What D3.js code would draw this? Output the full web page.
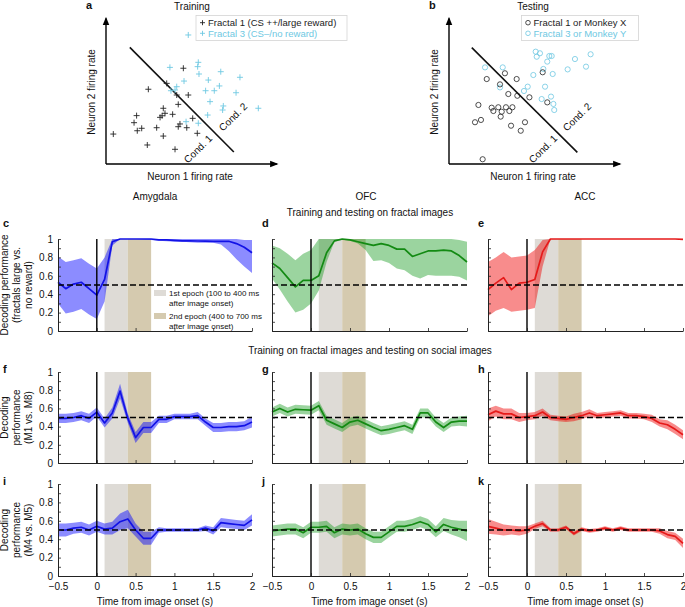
<!DOCTYPE html>
<html><head><meta charset="utf-8">
<script src="https://cdn.jsdelivr.net/npm/d3@7"></script>
<style>
body{margin:0;background:#fff}
text{font-family:"Liberation Sans",Arial,Helvetica,sans-serif;fill:#111}
</style>
</head><body>
<svg id="fig" width="685" height="607"></svg>
<script>
// ---------------- DATA ----------------
// Panel a (training) scatter, arbitrary firing-rate units 0..10
const fractal1Train = [[4.55,6.65],[2.49,5.19],[3.57,5.60],[4.16,4.79],[4.84,4.79],[4.25,4.14],[3.37,3.87],[3.47,3.52],[3.18,3.24],[3.92,3.45],[1.80,3.36],[1.65,2.87],[1.84,2.31],[2.10,2.48],[2.98,2.52],[4.35,2.78],[4.25,2.59],[4.75,2.52],[5.10,3.17],[5.37,2.13],[0.43,2.08],[3.37,1.94],[2.43,1.32],[4.06,1.02],[3.30,3.35]];
const fractal3Train = [[4.84,8.96],[5.43,7.06],[5.39,6.76],[3.76,6.71],[5.47,6.25],[6.75,6.41],[7.88,6.02],[6.02,5.83],[4.59,5.76],[6.67,5.42],[4.16,5.37],[4.06,5.14],[3.82,5.09],[5.86,5.09],[6.37,5.09],[7.65,4.95],[6.12,4.33],[6.90,4.03],[6.86,3.75],[8.96,3.87],[5.98,3.40],[5.43,2.83],[4.71,2.94]];
// Panel b (testing) scatter
const monkeyXTest = [[3.29,6.30],[2.22,5.90],[3.98,5.90],[3.00,5.53],[5.51,6.37],[3.49,4.86],[4.02,4.74],[4.73,4.63],[5.78,4.28],[1.73,4.10],[2.51,3.91],[2.90,3.94],[3.35,3.94],[3.73,3.94],[2.61,3.68],[3.10,3.63],[3.55,3.68],[3.04,3.29],[1.88,3.06],[1.53,2.90],[4.47,2.90],[3.65,2.66],[4.22,2.31],[1.98,0.33]];
const monkeyYTest = [[5.10,7.80],[5.35,7.69],[5.16,7.45],[5.90,7.50],[6.04,7.50],[5.78,7.11],[7.41,7.29],[8.33,7.62],[2.12,6.71],[3.16,6.71],[5.55,6.60],[6.98,6.57],[8.06,6.76],[4.96,6.18],[6.10,6.25],[3.00,5.32],[4.63,5.37],[5.65,5.37],[4.41,5.07],[6.00,4.68],[5.45,4.51],[6.14,4.17],[6.19,3.75]];
const boundaryTrain = [[1.40,8.10],[7.52,0.83]];
const boundaryTest = [[1.34,8.08],[7.55,0.81]];

// Time axis (s)
const time = [-0.5,-0.4,-0.3,-0.2,-0.1,0,0.1,0.2,0.3,0.4,0.5,0.6,0.7,0.8,0.9,1.0,1.1,1.2,1.3,1.4,1.5,1.6,1.7,1.8,1.9,2.0];
const epochs = [[0.1,0.4],[0.4,0.7]];
const xTicks = [-0.5,0,0.5,1,1.5,2];
const yTicks = [0,0.1,0.2,0.3,0.4,0.5,0.6,0.7,0.8,0.9,1];
const yLabelTicks = [0,0.2,0.4,0.6,0.8,1];
const chance = 0.5;

// c: Amygdala, fractals
const amyFracMean  = [0.53,0.46,0.51,0.53,0.46,0.39,0.56,0.97,1.00,1.00,1.00,1.00,1.00,0.99,0.99,0.985,0.98,0.98,0.978,0.976,0.975,0.975,0.975,0.95,0.91,0.85];
const amyFracUpper = [0.81,0.75,0.77,0.79,0.73,0.68,0.80,1.00,1.00,1.00,1.00,1.00,1.00,1.00,1.00,1.00,1.00,1.00,1.00,1.00,1.00,1.00,1.00,1.00,0.99,0.99];
const amyFracLower = [0.30,0.19,0.21,0.24,0.18,0.13,0.32,0.93,1.00,1.00,1.00,0.995,0.99,0.98,0.975,0.97,0.97,0.965,0.96,0.96,0.96,0.94,0.87,0.78,0.70,0.63];
// d: OFC, fractals
const ofcFracMean  = [0.74,0.68,0.58,0.48,0.55,0.55,0.60,0.85,0.98,1.00,0.99,0.97,0.95,0.93,0.95,0.93,0.89,0.89,0.81,0.84,0.87,0.87,0.88,0.87,0.82,0.75];
const ofcFracUpper = [0.93,0.90,0.84,0.77,0.84,0.88,1.00,1.00,1.00,1.00,1.00,1.00,1.00,1.00,1.00,1.00,1.00,1.00,1.00,1.00,1.00,1.00,1.00,1.00,0.99,0.97];
const ofcFracLower = [0.57,0.45,0.32,0.20,0.23,0.30,0.44,0.75,0.97,0.99,0.98,0.95,0.88,0.76,0.77,0.74,0.68,0.66,0.60,0.57,0.61,0.60,0.60,0.60,0.59,0.55];
// e: ACC, fractals
const accFracMean  = [0.45,0.52,0.58,0.45,0.52,0.53,0.56,0.86,1.00,1.00,1.00,1.00,1.00,1.00,1.00,1.00,1.00,1.00,1.00,1.00,1.00,1.00,1.00,1.00,1.00,0.995];
const accFracUpper = [0.75,0.80,0.86,0.80,0.81,0.82,0.88,0.99,1.00,1.00,1.00,1.00,1.00,1.00,1.00,1.00,1.00,1.00,1.00,1.00,1.00,1.00,1.00,1.00,1.00,1.00];
const accFracLower = [0.16,0.22,0.25,0.21,0.22,0.23,0.25,0.70,1.00,1.00,1.00,1.00,1.00,1.00,1.00,1.00,1.00,1.00,1.00,1.00,1.00,1.00,1.00,1.00,1.00,0.99];
// f/g/h: M1 vs M8 (mean, half-width of band)
const amyM1M8Mean = [0.49,0.49,0.50,0.52,0.49,0.56,0.44,0.55,0.79,0.49,0.28,0.39,0.39,0.48,0.48,0.51,0.51,0.51,0.52,0.45,0.39,0.39,0.40,0.40,0.41,0.45];
const amyM1M8Err  = [0.05,0.05,0.05,0.05,0.05,0.05,0.05,0.06,0.08,0.05,0.06,0.06,0.06,0.04,0.04,0.03,0.03,0.03,0.04,0.04,0.05,0.05,0.05,0.05,0.05,0.06];
const ofcM1M8Mean = [0.56,0.60,0.56,0.59,0.585,0.58,0.63,0.47,0.43,0.39,0.45,0.47,0.43,0.39,0.355,0.37,0.39,0.41,0.37,0.55,0.55,0.45,0.39,0.45,0.46,0.46];
const ofcM1M8Err  = [0.05,0.05,0.05,0.05,0.05,0.05,0.05,0.05,0.05,0.05,0.05,0.05,0.05,0.05,0.05,0.05,0.05,0.05,0.05,0.05,0.05,0.05,0.05,0.05,0.05,0.06];
const accM1M8Mean = [0.53,0.57,0.54,0.54,0.50,0.51,0.52,0.56,0.50,0.49,0.48,0.50,0.52,0.55,0.52,0.53,0.54,0.55,0.52,0.52,0.51,0.49,0.44,0.42,0.37,0.31];
const accM1M8Err  = [0.07,0.06,0.06,0.06,0.05,0.04,0.04,0.04,0.03,0.03,0.03,0.04,0.04,0.04,0.03,0.03,0.03,0.03,0.03,0.03,0.03,0.04,0.04,0.05,0.05,0.05];
// i/j/k: M4 vs M5
const amyM4M5Mean = [0.50,0.50,0.52,0.53,0.50,0.54,0.51,0.52,0.59,0.62,0.50,0.41,0.41,0.50,0.50,0.50,0.50,0.50,0.50,0.52,0.49,0.58,0.57,0.56,0.55,0.61];
const amyM4M5Err  = [0.07,0.07,0.06,0.06,0.06,0.06,0.06,0.07,0.09,0.10,0.07,0.07,0.07,0.03,0.02,0.02,0.02,0.02,0.02,0.03,0.04,0.05,0.05,0.05,0.05,0.06];
const ofcM4M5Mean = [0.49,0.50,0.51,0.51,0.47,0.53,0.53,0.54,0.47,0.51,0.50,0.51,0.46,0.42,0.42,0.48,0.54,0.54,0.56,0.59,0.56,0.48,0.56,0.53,0.51,0.49];
const ofcM4M5Err  = [0.06,0.06,0.06,0.06,0.06,0.06,0.06,0.06,0.06,0.06,0.06,0.06,0.06,0.06,0.06,0.06,0.06,0.06,0.06,0.06,0.06,0.06,0.07,0.08,0.09,0.11];
const accM4M5Mean = [0.54,0.52,0.50,0.50,0.49,0.50,0.54,0.57,0.50,0.50,0.53,0.46,0.51,0.49,0.50,0.52,0.50,0.52,0.50,0.50,0.50,0.50,0.49,0.45,0.43,0.355];
const accM4M5Err  = [0.08,0.07,0.06,0.05,0.05,0.04,0.03,0.03,0.02,0.02,0.02,0.02,0.02,0.02,0.02,0.02,0.02,0.02,0.02,0.02,0.02,0.02,0.03,0.04,0.04,0.05];

const regionTitles = ["Amygdala","OFC","ACC"];
const rowTitles = ["Training and testing on fractal images","Training on fractal images and testing on social images"];
const yAxisLabels = [["Decoding performance","(fractals large vs.","no reward)"],["Decoding","performance","(M1 vs. M8)"],["Decoding","performance","(M4 vs. M5)"]];
const epochLegend = [["1st epoch (100 to 400 ms","after image onset)"],["2nd epoch (400 to 700 ms","after image onset)"]];

// ---------------- LAYOUT / STYLE ----------------
const svg = d3.select("#fig");
const cols = [[58,252],[272,467],[488,683]];
const rows = [[331,239],[463,372],[576,484]];
const regionColors = [
  {line:"#1212e6", band:"#0000ff", op:0.45},
  {line:"#138a13", band:"#11991a", op:0.42},
  {line:"#e61a1a", band:"#f00000", op:0.45}
];
const epochColors = ["#dedbd6","#d5caaf"];
const cyan = "#6ec8e2";

function fmt(d){ return d<0 ? "\u2212"+Math.abs(d) : String(d); }

// ---------------- PANELS a, b ----------------
function scatterPanel(opt){
  const x = d3.scaleLinear().domain([0,10]).range([opt.x0, opt.x0+170]);
  const y = d3.scaleLinear().domain([0,10]).range([164, 20]);
  const g = svg.append("g");
  const defsId = "arr"+opt.letter;
  svg.append("defs").append("marker").attr("id",defsId).attr("viewBox","0 0 10 10")
    .attr("refX",8).attr("refY",5).attr("markerWidth",6).attr("markerHeight",6).attr("orient","auto")
    .append("path").attr("d","M0,1 L10,5 L0,9 Z").attr("fill","#000");
  g.append("line").attr("x1",x(0)).attr("y1",y(0)).attr("x2",x(10.05)).attr("y2",y(0))
    .attr("stroke","#000").attr("stroke-width",1.4).attr("marker-end","url(#"+defsId+")");
  g.append("line").attr("x1",x(0)).attr("y1",y(0)).attr("x2",x(0)).attr("y2",y(10.1))
    .attr("stroke","#000").attr("stroke-width",1.4).attr("marker-end","url(#"+defsId+")");
  // boundary
  g.append("line").attr("x1",x(opt.boundary[0][0])).attr("y1",y(opt.boundary[0][1]))
    .attr("x2",x(opt.boundary[1][0])).attr("y2",y(opt.boundary[1][1]))
    .attr("stroke","#111").attr("stroke-width",1.6);
  const drawMark = (sel, color) => {
    if(opt.marker==="plus"){
      sel.append("path").attr("d",d=>`M${x(d[0])-3},${y(d[1])}h6M${x(d[0])},${y(d[1])-3}v6`)
        .attr("stroke",color).attr("stroke-width",0.9).attr("fill","none");
    } else {
      sel.append("circle").attr("cx",d=>x(d[0])).attr("cy",d=>y(d[1])).attr("r",2.6)
        .attr("stroke",color).attr("stroke-width",0.8).attr("fill","none");
    }
  };
  drawMark(g.append("g").selectAll("g").data(opt.s2).join("g"), cyan);
  drawMark(g.append("g").selectAll("g").data(opt.s1).join("g"), "#222");
  // labels
  g.append("text").attr("x",opt.x0-20).attr("y",9).attr("font-weight","bold").attr("font-size",11).text(opt.letter);
  g.append("text").attr("x",opt.titleX).attr("y",10).attr("text-anchor","middle").attr("font-size",10).text(opt.title);
  g.append("text").attr("transform",`translate(${opt.x0-11},92) rotate(-90)`).attr("text-anchor","middle").attr("font-size",10).text("Neuron 2 firing rate");
  g.append("text").attr("x",x(5)-1).attr("y",180).attr("text-anchor","middle").attr("font-size",10).text("Neuron 1 firing rate");
  g.append("text").attr("transform",`translate(${opt.c1[0]},${opt.c1[1]}) rotate(-45)`).attr("text-anchor","middle").attr("dominant-baseline","central").attr("font-size",10).text("Cond. 1");
  g.append("text").attr("transform",`translate(${opt.c2[0]},${opt.c2[1]}) rotate(-45)`).attr("text-anchor","middle").attr("dominant-baseline","central").attr("font-size",10).text("Cond. 2");
  // legend
  const lg = g.append("g");
  lg.append("rect").attr("x",opt.leg[0]).attr("y",15.5).attr("width",opt.leg[1]).attr("height",25)
    .attr("fill","#fff").attr("stroke","#d4d4d4").attr("stroke-width",0.8);
  const ly = [22.7,33.3], lc = ["#222",cyan];
  opt.legendText.forEach((t,i)=>{
    const mx = opt.leg[0]+6.5;
    if(opt.marker==="plus"){
      lg.append("path").attr("d",`M${mx-2.5},${ly[i]}h5M${mx},${ly[i]-2.5}v5`).attr("stroke",lc[i]).attr("stroke-width",0.9);
    } else {
      lg.append("circle").attr("cx",mx).attr("cy",ly[i]).attr("r",2.3).attr("fill","none").attr("stroke",lc[i]).attr("stroke-width",0.8);
    }
    lg.append("text").attr("x",mx+5.5).attr("y",ly[i]+3.4).attr("font-size",9.5).style("fill",lc[i]).text(t);
  });
}
scatterPanel({letter:"a", x0:106, s1:fractal1Train, s2:fractal3Train, boundary:boundaryTrain, marker:"plus",
  title:"Training", titleX:192, c1:[198,149], c2:[233,117], leg:[196,151],
  legendText:["Fractal 1 (CS ++/large reward)","Fractal 3 (CS\u2013/no reward)"]});
scatterPanel({letter:"b", x0:449, s1:monkeyXTest, s2:monkeyYTest, boundary:boundaryTest, marker:"circle",
  title:"Testing", titleX:533, c1:[543,149], c2:[577,117], leg:[521.5,117],
  legendText:["Fractal 1 or Monkey X","Fractal 3 or Monkey Y"]});

// ---------------- TIME-SERIES PANELS ----------------
const band = (mean, err) => mean.map((m,i)=>[m-err[i], m+err[i]]);
const panels = [
  {L:"c", r:0, c:0, mean:amyFracMean, lo:amyFracLower, hi:amyFracUpper},
  {L:"d", r:0, c:1, mean:ofcFracMean, lo:ofcFracLower, hi:ofcFracUpper},
  {L:"e", r:0, c:2, mean:accFracMean, lo:accFracLower, hi:accFracUpper},
  {L:"f", r:1, c:0, mean:amyM1M8Mean, err:amyM1M8Err},
  {L:"g", r:1, c:1, mean:ofcM1M8Mean, err:ofcM1M8Err, serif:true},
  {L:"h", r:1, c:2, mean:accM1M8Mean, err:accM1M8Err},
  {L:"i", r:2, c:0, mean:amyM4M5Mean, err:amyM4M5Err},
  {L:"j", r:2, c:1, mean:ofcM4M5Mean, err:ofcM4M5Err},
  {L:"k", r:2, c:2, mean:accM4M5Mean, err:accM4M5Err}
];

panels.forEach(p=>{
  const x = d3.scaleLinear().domain([-0.5,2]).range(cols[p.c]);
  const y = d3.scaleLinear().domain([0,1]).range(rows[p.r]);
  const col = regionColors[p.c];
  const g = svg.append("g");
  // epochs
  g.selectAll("rect.ep").data(epochs).join("rect").attr("class","ep")
    .attr("x",d=>x(d[0])).attr("width",d=>x(d[1])-x(d[0]))
    .attr("y",y(1)).attr("height",y(0)-y(1)).attr("fill",(d,i)=>epochColors[i]);
  // band
  const bounds = p.err ? band(p.mean,p.err) : p.mean.map((m,i)=>[p.lo[i],p.hi[i]]);
  const area = d3.area().x((d,i)=>x(time[i])).y0(d=>y(Math.max(0,d[0]))).y1(d=>y(Math.min(1,d[1])));
  g.append("path").datum(bounds).attr("d",area).attr("fill",col.band).attr("fill-opacity",col.op);
  // mean line
  const line = d3.line().x((d,i)=>x(time[i])).y(d=>y(d));
  g.append("path").datum(p.mean).attr("d",line).attr("fill","none").attr("stroke",col.line)
    .attr("stroke-width",1.7).attr("stroke-linejoin","round");
  // chance line
  g.append("line").attr("x1",x(-0.5)).attr("x2",x(2)).attr("y1",y(chance)).attr("y2",y(chance))
    .attr("stroke","#000").attr("stroke-width",1.5).attr("stroke-dasharray","6,3");
  // onset line
  g.append("line").attr("x1",x(0)).attr("x2",x(0)).attr("y1",y(0)).attr("y2",y(1))
    .attr("stroke","#000").attr("stroke-width",1.4);
  // axes
  const ya = d3.axisLeft(y).tickValues(yTicks).tickSize(-3).tickSizeOuter(0).tickPadding(5)
    .tickFormat(d=> (p.c===0 && yLabelTicks.some(v=>Math.abs(v-d)<1e-9)) ? fmt(+d.toFixed(1)) : "");
  const yg = g.append("g").attr("transform",`translate(${x(-0.5)},0)`).call(ya);
  const xa = d3.axisBottom(x).tickValues(xTicks).tickSize(-3).tickSizeOuter(0).tickPadding(7)
    .tickFormat(d=> p.r===2 ? fmt(d) : "");
  const xg = g.append("g").attr("transform",`translate(0,${y(0)})`).call(xa);
  [yg,xg].forEach(a=>{
    a.selectAll("text").attr("font-size",10).attr("font-family",'"Liberation Sans",Arial,sans-serif').attr("fill","#111");
    a.selectAll("line").attr("stroke","#222").attr("stroke-width",0.8);
    a.select(".domain").attr("stroke","#222").attr("stroke-width",1);
  });
  // panel letter
  const lx = p.c===0 ? 3 : cols[p.c][0]-10;
  const ly = p.r===0 ? y(1)-12 : y(1)+1;
  g.append("text").attr("x",lx).attr("y",ly).attr("font-size",11).attr("font-weight","bold")
    .attr("font-family", p.serif ? '"Liberation Serif","Times New Roman",serif' : null).text(p.L);
  // y label
  if(p.c===0){
    const yc = (rows[p.r][0]+rows[p.r][1])/2;
    yAxisLabels[p.r].forEach((t,i)=>{
      g.append("text").attr("transform",`translate(${8+i*12},${yc}) rotate(-90)`)
        .attr("text-anchor","middle").attr("font-size",10).text(t);
    });
  }
  if(p.r===2){
    g.append("text").attr("x",x(0.75)).attr("y",605).attr("text-anchor","middle").attr("font-size",10)
      .text("Time from image onset (s)");
  }
  if(p.L==="c"){
    epochLegend.forEach((lines,i)=>{
      const yy = 290 + i*23;
      g.append("rect").attr("x",154).attr("y",yy).attr("width",12).attr("height",6).attr("fill",epochColors[i]);
      lines.forEach((t,j)=>{
        g.append("text").attr("x",169).attr("y",yy+6+j*9.5).attr("font-size",8).text(t);
      });
    });
  }
});

// titles
const titleX = [155,366,585];
regionTitles.forEach((t,i)=>svg.append("text").attr("x",titleX[i]).attr("y",200).attr("text-anchor","middle").attr("font-size",10).text(t));
svg.append("text").attr("x",370).attr("y",216).attr("text-anchor","middle").attr("font-size",10).text(rowTitles[0]);
svg.append("text").attr("x",370).attr("y",354).attr("text-anchor","middle").attr("font-size",10).text(rowTitles[1]);
</script>
</body></html>
